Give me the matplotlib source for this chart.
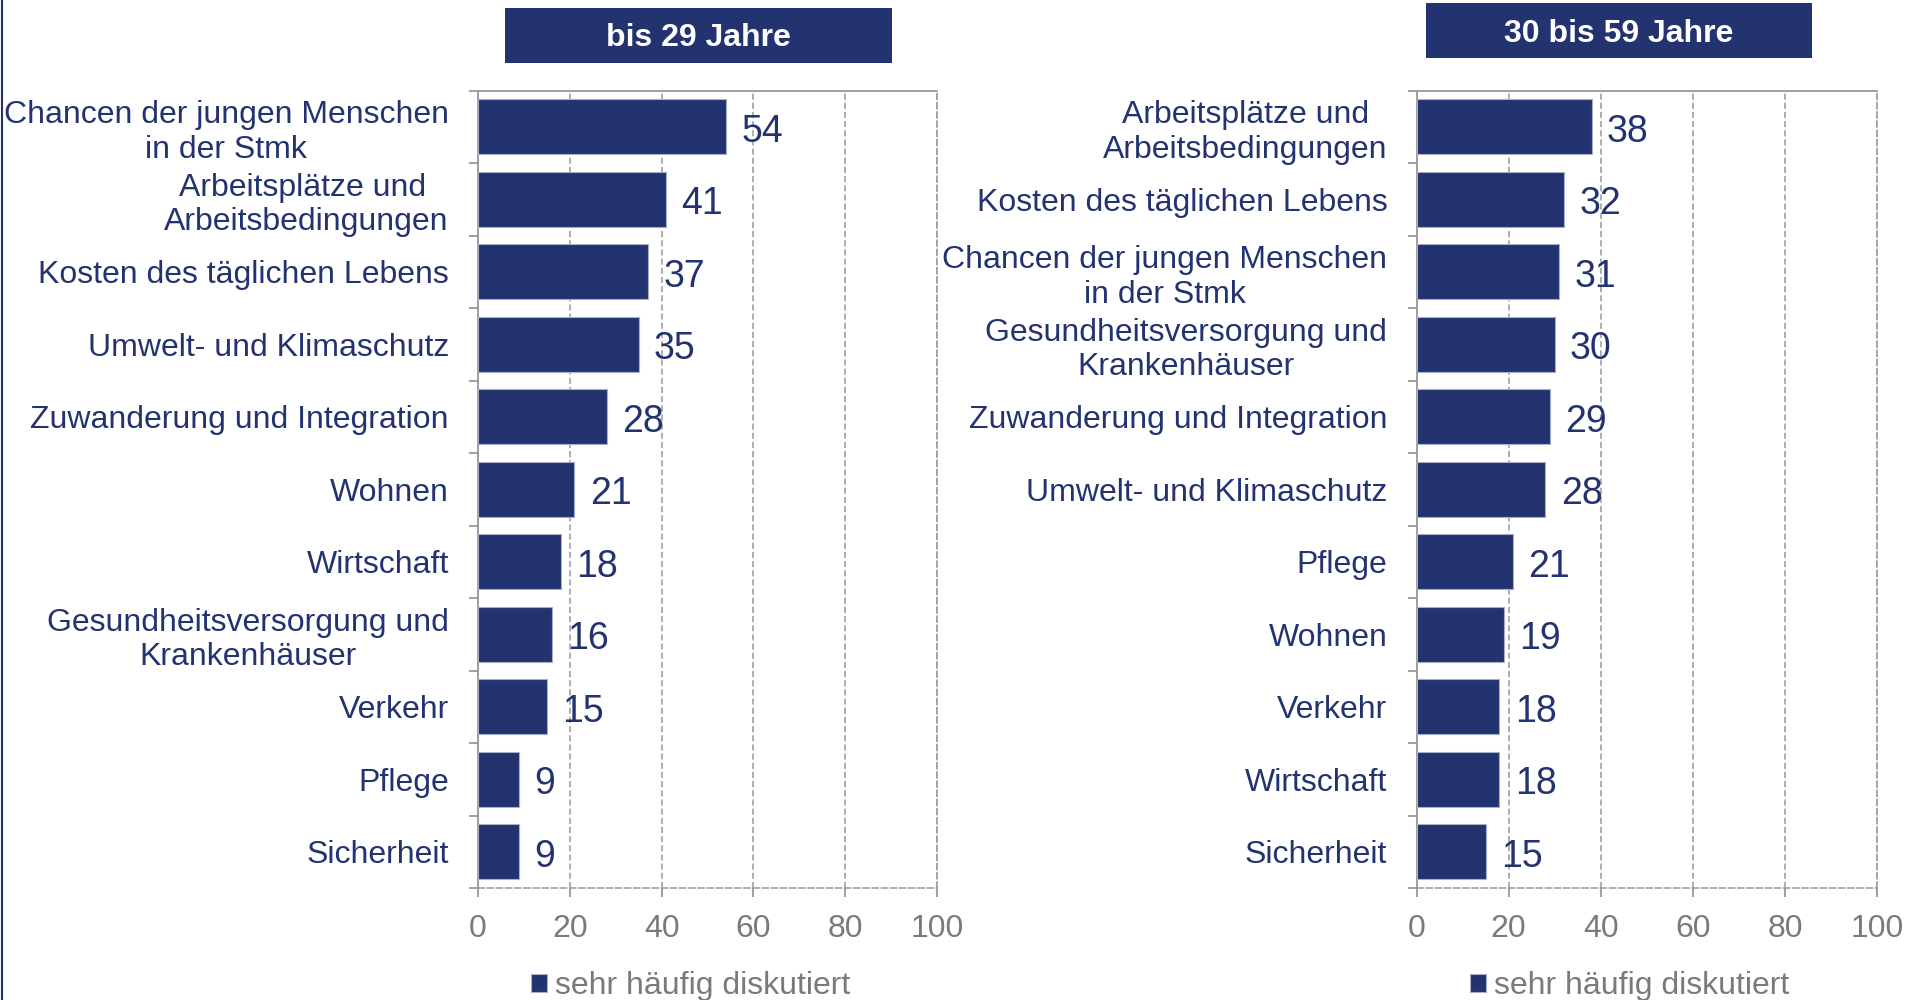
import matplotlib
matplotlib.use("Agg")
import matplotlib.pyplot as plt
from matplotlib.patches import Rectangle
from matplotlib.lines import Line2D

plt.rcParams['font.family'] = ['Liberation Sans', 'DejaVu Sans']

# data, top to bottom as in the chart
young_labels = ["Chancen der jungen Menschen\nin der Stmk", "Arbeitsplätze und \nArbeitsbedingungen",
                "Kosten des täglichen Lebens", "Umwelt- und Klimaschutz", "Zuwanderung und Integration",
                "Wohnen", "Wirtschaft", "Gesundheitsversorgung und\nKrankenhäuser", "Verkehr", "Pflege",
                "Sicherheit"]
young_values = [54, 41, 37, 35, 28, 21, 18, 16, 15, 9, 9]

mid_labels = ["Arbeitsplätze und\nArbeitsbedingungen", "Kosten des täglichen Lebens",
              "Chancen der jungen Menschen\nin der Stmk", "Gesundheitsversorgung und\nKrankenhäuser",
              "Zuwanderung und Integration", "Umwelt- und Klimaschutz", "Pflege", "Wohnen", "Verkehr",
              "Wirtschaft", "Sicherheit"]
mid_values = [38, 32, 31, 30, 29, 28, 21, 19, 18, 18, 15]

panel_titles = ["bis 29 Jahre", "30 bis 59 Jahre"]
legend_label = "sehr häufig diskutiert"
x_ticks = [0, 20, 40, 60, 80, 100]

NAVY = '#233370'
GREY = '#7a7a7a'
GRID = '#999999'
FS = 23


def draw_panel(ax, labels, values):
    pos = list(range(len(labels)))
    ax.barh(pos, values, height=0.76, color=NAVY, edgecolor='#a7aec8', linewidth=0.8,
            label=legend_label, zorder=3)
    ax.set_ylim(len(labels) - 0.5, -0.5)
    ax.set_xlim(0, 100)

    # category labels in the middle, tick marks at the boundaries
    ax.set_yticks(pos)
    ax.set_yticklabels(labels, fontsize=FS, color=NAVY)
    for t in ax.get_yticklabels():
        t.set_multialignment('center')
    ax.tick_params(axis='y', which='major', length=0, pad=21)
    ax.set_yticks([p - 0.5 for p in pos] + [len(labels) - 0.5], minor=True)
    ax.tick_params(axis='y', which='minor', length=6.5, width=1.3, color=GRID)

    ax.set_xticks(x_ticks)
    ax.tick_params(axis='x', length=6.5, width=1.3, color=GRID, labelcolor=GREY,
                   labelsize=FS, pad=12)

    ax.grid(axis='x', color=GRID, linestyle=(0, (4, 2)), linewidth=1.1, zorder=0)
    ax.set_axisbelow(True)
    for side in ['left', 'top']:
        ax.spines[side].set_color(GRID)
        ax.spines[side].set_linewidth(1.3)
    for side in ['bottom', 'right']:
        ax.spines[side].set_color(GRID)
        ax.spines[side].set_linewidth(1.1)
        ax.spines[side].set_linestyle((0, (4, 2)))

    # value labels next to the bar ends
    for p, v in zip(pos, values):
        ax.annotate(str(v), xy=(v, p), xytext=(11, -3.5), textcoords='offset points',
                    ha='left', va='center', fontsize=27, color=NAVY)

    ax.legend(loc='center', bbox_to_anchor=(0.462, -0.123), frameon=False, fontsize=FS,
              handlelength=0.5, handleheight=0.5, handletextpad=0.25, borderpad=0,
              labelcolor=GREY)


fig = plt.figure(figsize=(19.07, 10), dpi=100)
ax_left = fig.add_axes([0.2507, 0.112, 0.2407, 0.7975])
ax_right = fig.add_axes([0.7428, 0.112, 0.2415, 0.7975])

draw_panel(ax_left, young_labels, young_values)
draw_panel(ax_right, mid_labels, mid_values)

# title boxes
for (x0, y0, w, h), title in zip([(0.2648, 0.9375, 0.2029, 0.0545), (0.7478, 0.942, 0.2024, 0.055)],
                                 panel_titles):
    fig.add_artist(Rectangle((x0, y0), w, h, transform=fig.transFigure, facecolor=NAVY,
                             edgecolor='none'))
    fig.text(x0 + w / 2, y0 + h / 2 - 0.003, title, color='white', fontsize=FS, fontweight='bold',
             ha='center', va='center')

# slide border on the left edge
fig.add_artist(Line2D([0.0008, 0.0008], [0, 1], transform=fig.transFigure, color=NAVY, linewidth=1.5))

fig.savefig("out.png", dpi=100)
